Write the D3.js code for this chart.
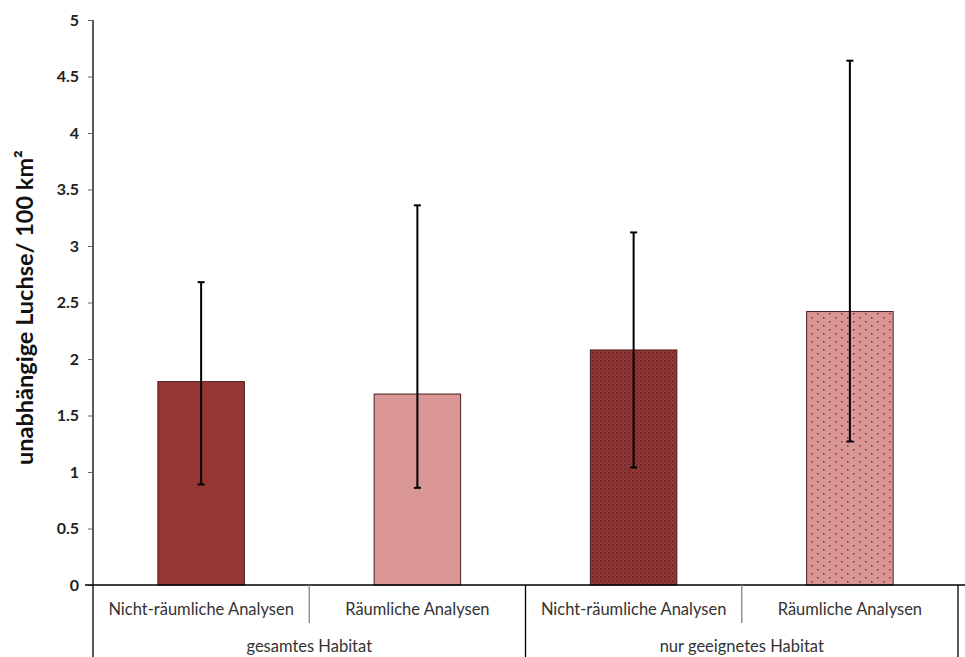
<!DOCTYPE html>
<html>
<head>
<meta charset="utf-8">
<script src="https://cdn.jsdelivr.net/npm/d3@7"></script>
<style>
  html, body { margin: 0; padding: 0; background: #fff; }
  svg { display: block; }
</style>
</head>
<body>
<svg id="chart" width="965" height="657"></svg>
<script>
// Lynx density estimates (independent lynx per 100 km²) with error ranges
const groups = ["gesamtes Habitat", "nur geeignetes Habitat"];
const methods = ["Nicht-räumliche Analysen", "Räumliche Analysen"];
const barGroup = [0, 0, 1, 1];
const barMethod = [0, 1, 0, 1];
const means = [1.80, 1.69, 2.08, 2.42];
const lower = [0.89, 0.86, 1.04, 1.27];
const upper = [2.68, 3.36, 3.12, 4.64];
const yTicks = [0, 0.5, 1, 1.5, 2, 2.5, 3, 3.5, 4, 4.5, 5];
const yLabel = "unabhängige Luchse/ 100 km²";

const svg = d3.select("#chart");
const margin = { left: 93, right: 7, top: 20, bottom: 72 };
const W = 965, H = 657;
const plotBottom = H - margin.bottom;
const font = "Lato, 'Open Sans', 'DejaVu Sans', sans-serif";

const y = d3.scaleLinear().domain([0, 5]).range([plotBottom, margin.top]);
const x = d3.scaleBand()
  .domain(d3.range(means.length))
  .range([margin.left, W - margin.right])
  .paddingInner(0.6).paddingOuter(0.3);
const slot = d3.scaleBand()
  .domain(d3.range(means.length))
  .range([margin.left, W - margin.right]);
const groupScale = d3.scaleBand()
  .domain(d3.range(groups.length))
  .range([margin.left, W - margin.right]);

// fill patterns
const defs = svg.append("defs");
const fillDark = "#943634", fillLight = "#d99694";

const p1 = defs.append("pattern").attr("id", "dotsDark")
  .attr("patternUnits", "userSpaceOnUse").attr("width", 4).attr("height", 4);
p1.append("rect").attr("width", 4).attr("height", 4).attr("fill", fillDark);
p1.append("rect").attr("x", 0).attr("y", 0).attr("width", 1.3).attr("height", 1.3).attr("fill", "#5e1f1e");
p1.append("rect").attr("x", 2).attr("y", 2).attr("width", 1.3).attr("height", 1.3).attr("fill", "#6e2624");

const p2 = defs.append("pattern").attr("id", "dotsLight")
  .attr("patternUnits", "userSpaceOnUse").attr("width", 12).attr("height", 8);
p2.append("rect").attr("width", 12).attr("height", 8).attr("fill", fillLight);
p2.append("rect").attr("x", 1).attr("y", 1).attr("width", 1.5).attr("height", 1.5).attr("fill", "#6b3a3a");
p2.append("rect").attr("x", 7).attr("y", 5).attr("width", 1.5).attr("height", 1.5).attr("fill", "#6b3a3a");

const fills = [fillDark, fillLight, "url(#dotsDark)", "url(#dotsLight)"];

// y axis
const yAxis = d3.axisLeft(y).tickValues(yTicks).tickSize(5).tickPadding(9)
  .tickFormat(d => String(d));
const gy = svg.append("g").attr("transform", `translate(${margin.left},0)`).call(yAxis);
gy.select(".domain").attr("d", `M0,${margin.top}V${plotBottom}`).attr("stroke", "#000").attr("stroke-width", 1.3);
gy.selectAll(".tick line").attr("stroke", "#666");
gy.selectAll(".tick text")
  .attr("font-family", font)
  .attr("font-weight", "bold").attr("font-size", 16).attr("fill", "#222");

// y axis title
svg.append("text")
  .attr("transform", `translate(33,${(margin.top + plotBottom) / 2 + 5}) rotate(-90)`)
  .attr("text-anchor", "middle")
  .attr("font-family", font)
  .attr("font-weight", "bold").attr("font-size", 23.5).attr("fill", "#111")
  .text(yLabel);

// bars
svg.append("g").selectAll("rect").data(means).join("rect")
  .attr("x", (d, i) => x(i))
  .attr("y", d => y(d))
  .attr("width", x.bandwidth())
  .attr("height", d => y(0) - y(d))
  .attr("fill", (d, i) => fills[i])
  .attr("stroke", "#4a2020").attr("stroke-width", 1);

// error bars
const eb = svg.append("g").attr("stroke", "#000").attr("stroke-width", 2);
means.forEach((m, i) => {
  const cx = x(i) + x.bandwidth() / 2;
  eb.append("line").attr("x1", cx).attr("x2", cx).attr("y1", y(upper[i])).attr("y2", y(lower[i]));
  eb.append("line").attr("x1", cx - 3.5).attr("x2", cx + 3.5).attr("y1", y(upper[i])).attr("y2", y(upper[i]));
  eb.append("line").attr("x1", cx - 3.5).attr("x2", cx + 3.5).attr("y1", y(lower[i])).attr("y2", y(lower[i]));
});

// x axis baseline
svg.append("line").attr("x1", margin.left - 8).attr("x2", W).attr("y1", y(0)).attr("y2", y(0))
  .attr("stroke", "#000").attr("stroke-width", 1.3);

// method labels and separators within groups
svg.append("g").selectAll("text").data(means).join("text")
  .attr("x", (d, i) => slot(i) + slot.bandwidth() / 2)
  .attr("y", y(0) + 30)
  .attr("text-anchor", "middle")
  .attr("font-family", font).attr("font-size", 16.5).attr("fill", "#333")
  .text((d, i) => methods[barMethod[i]]);

groups.forEach((g, gi) => {
  const mid = groupScale(gi) + groupScale.bandwidth() / 2;
  svg.append("line").attr("x1", mid).attr("x2", mid).attr("y1", y(0)).attr("y2", y(0) + 38)
    .attr("stroke", "#888").attr("stroke-width", 1.3);
  svg.append("text")
    .attr("x", mid).attr("y", y(0) + 67)
    .attr("text-anchor", "middle")
    .attr("font-family", font).attr("font-size", 16.5).attr("fill", "#333")
    .text(g);
});

// group boundaries
const bounds = groups.map((g, gi) => groupScale(gi)).concat([W - margin.right]);
svg.append("g").selectAll("line").data(bounds).join("line")
  .attr("x1", d => d).attr("x2", d => d)
  .attr("y1", y(0)).attr("y2", H)
  .attr("stroke", "#000").attr("stroke-width", 1.3);
</script>
</body>
</html>
